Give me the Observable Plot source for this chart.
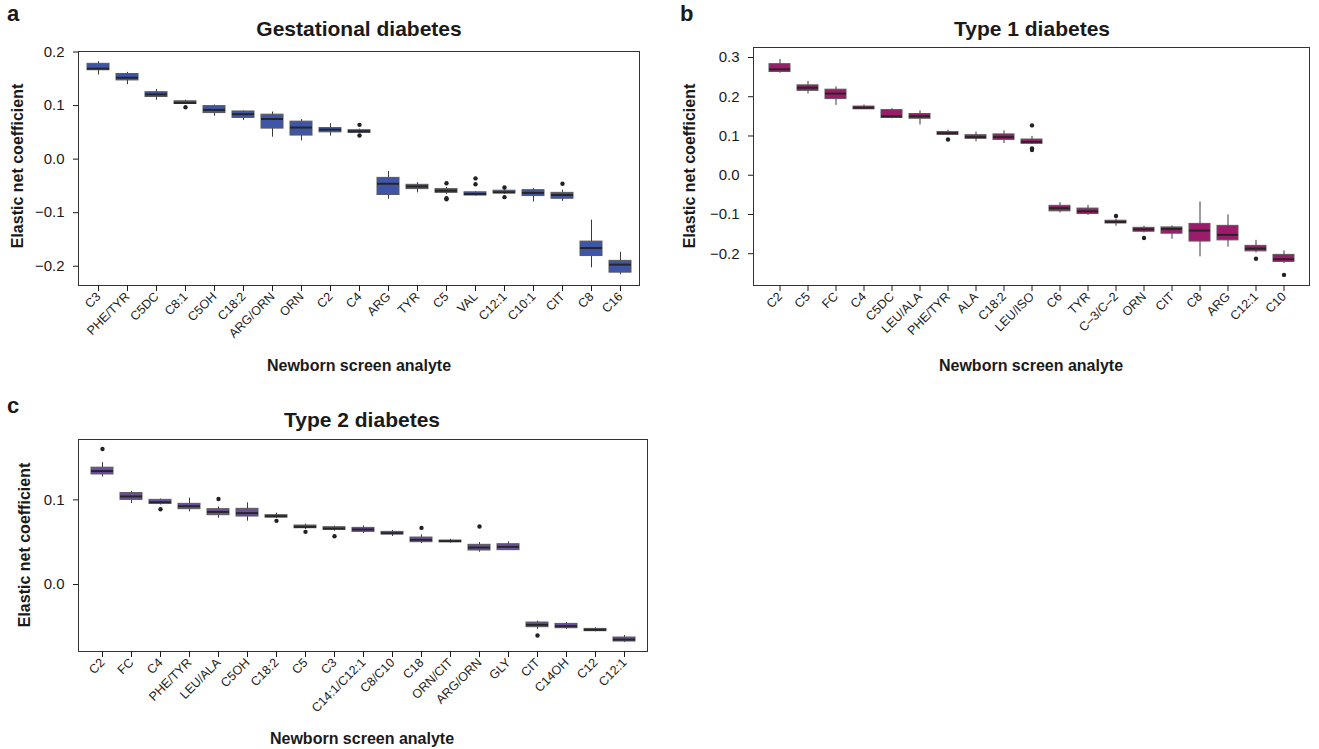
<!DOCTYPE html>
<html>
<head>
<meta charset="utf-8">
<script src="https://cdn.jsdelivr.net/npm/d3@7"></script>
<script src="https://cdn.jsdelivr.net/npm/@observablehq/plot@0.6"></script>
<style>
  html, body { margin: 0; padding: 0; background: #fff; }
  #wrap { position: relative; width: 1319px; height: 749px; font-family: "Liberation Sans", Arial, sans-serif; color: #1a1a1a; overflow: hidden; }
  .abs { position: absolute; white-space: nowrap; line-height: 1; }
  .letter { font-weight: bold; font-size: 22px; }
  .title { font-weight: bold; font-size: 21px; transform: translate(-50%, 0); }
  .xlab { font-weight: bold; font-size: 16px; transform: translate(-50%, 0); }
  .ylab { font-weight: bold; font-size: 16px; transform: translate(-50%, -50%) rotate(-90deg); }
  .panel { position: absolute; }
</style>
</head>
<body>
<div id="wrap">
  <div class="abs letter" style="left:7px;top:3px;">a</div>
  <div class="abs letter" style="left:680px;top:3px;">b</div>
  <div class="abs letter" style="left:7px;top:395px;">c</div>
  <div class="abs title" style="left:359px;top:18px;">Gestational diabetes</div>
  <div class="abs title" style="left:1032px;top:18px;">Type 1 diabetes</div>
  <div class="abs title" style="left:362px;top:409px;">Type 2 diabetes</div>
  <div class="abs ylab" style="left:18px;top:166px;">Elastic net coefficient</div>
  <div class="abs ylab" style="left:690px;top:166px;">Elastic net coefficient</div>
  <div class="abs ylab" style="left:25px;top:545px;">Elastic net coefficient</div>
  <div class="abs xlab" style="left:359px;top:358px;">Newborn screen analyte</div>
  <div class="abs xlab" style="left:1031px;top:358px;">Newborn screen analyte</div>
  <div class="abs xlab" style="left:362px;top:731px;">Newborn screen analyte</div>
  <div id="pa" class="panel" style="left:0px;top:0px;"></div>
  <div id="pb" class="panel" style="left:680px;top:0px;"></div>
  <div id="pc" class="panel" style="left:0px;top:390px;"></div>
</div>
<script>
// ---------- Panel a: Gestational diabetes ----------
const aCats = ["C3","PHE/TYR","C5DC","C8:1","C5OH","C18:2","ARG/ORN","ORN","C2","C4","ARG","TYR","C5","VAL","C12:1","C10:1","CIT","C8","C16"];
const aLo  = [0.157,0.139,0.110,0.102,0.080,0.072,0.041,0.034,0.043,0.048,-0.075,-0.063,-0.066,-0.069,-0.066,-0.080,-0.079,-0.203,-0.216];
const aQ1  = [0.166,0.147,0.116,0.103,0.086,0.077,0.057,0.044,0.050,0.049,-0.067,-0.056,-0.063,-0.068,-0.064,-0.069,-0.074,-0.181,-0.212];
const aMed = [0.169,0.152,0.121,0.105,0.092,0.084,0.075,0.059,0.055,0.052,-0.046,-0.051,-0.059,-0.065,-0.062,-0.063,-0.067,-0.166,-0.197];
const aQ3  = [0.178,0.159,0.125,0.108,0.099,0.089,0.083,0.070,0.058,0.054,-0.035,-0.048,-0.056,-0.062,-0.059,-0.058,-0.063,-0.154,-0.190];
const aHi  = [0.182,0.162,0.130,0.110,0.101,0.090,0.088,0.074,0.066,0.056,-0.023,-0.044,-0.053,-0.061,-0.057,-0.055,-0.058,-0.114,-0.174];
const aOutCat = ["C8:1","C4","C4","C5","C5","C5","VAL","VAL","C12:1","C12:1","CIT"];
const aOutVal = [0.097,0.064,0.044,-0.045,-0.073,-0.075,-0.036,-0.047,-0.053,-0.071,-0.046];
const aTicks = [-0.2,-0.1,0.0,0.1,0.2];
const aDomain = [-0.236, 0.201];

// ---------- Panel b: Type 1 diabetes ----------
const bCats = ["C2","C5","FC","C4","C5DC","LEU/ALA","PHE/TYR","ALA","C18:2","LEU/ISO","C6","TYR","C\u20133/C\u20132","ORN","CIT","C8","ARG","C12:1","C10"];
const bLo  = [0.260,0.207,0.178,0.167,0.144,0.128,0.101,0.085,0.081,0.079,-0.096,-0.102,-0.130,-0.147,-0.163,-0.208,-0.183,-0.198,-0.225];
const bQ1  = [0.263,0.215,0.194,0.168,0.146,0.144,0.103,0.093,0.090,0.080,-0.092,-0.099,-0.123,-0.144,-0.149,-0.169,-0.166,-0.194,-0.221];
const bMed = [0.270,0.223,0.208,0.172,0.150,0.150,0.107,0.097,0.097,0.085,-0.084,-0.092,-0.119,-0.138,-0.137,-0.141,-0.152,-0.187,-0.214];
const bQ3  = [0.283,0.229,0.218,0.175,0.166,0.156,0.110,0.102,0.104,0.091,-0.078,-0.085,-0.116,-0.134,-0.133,-0.124,-0.129,-0.180,-0.203];
const bHi  = [0.295,0.239,0.225,0.179,0.170,0.164,0.115,0.110,0.113,0.099,-0.070,-0.077,-0.112,-0.130,-0.129,-0.068,-0.101,-0.166,-0.193];
const bOutCat = ["PHE/TYR","LEU/ISO","LEU/ISO","LEU/ISO","C\u20133/C\u20132","ORN","C12:1","C10"];
const bOutVal = [0.091,0.127,0.068,0.064,-0.104,-0.160,-0.213,-0.254];
const bTicks = [-0.2,-0.1,0.0,0.1,0.2,0.3];
const bDomain = [-0.281, 0.3255];

// ---------- Panel c: Type 2 diabetes ----------
const cCats = ["C2","FC","C4","PHE/TYR","LEU/ALA","C5OH","C18:2","C5","C3","C14:1/C12:1","C8/C10","C18","ORN/CIT","ARG/ORN","GLY","CIT","C14OH","C12","C12:1"];
const cLo  = [0.127,0.0957,0.094,0.0858,0.0783,0.0748,0.078,0.065,0.063,0.0602,0.0567,0.0484,0.0488,0.0382,0.0402,-0.0531,-0.0531,-0.0559,-0.0685];
const cQ1  = [0.130,0.100,0.0953,0.089,0.0819,0.0803,0.0791,0.0665,0.0646,0.0622,0.0591,0.050,0.050,0.0402,0.0406,-0.0504,-0.0516,-0.0551,-0.0673];
const cMed = [0.134,0.104,0.0972,0.0925,0.0858,0.0843,0.0807,0.0681,0.0661,0.065,0.0606,0.0528,0.0512,0.0437,0.0445,-0.0476,-0.0492,-0.0535,-0.065];
const cQ3  = [0.138,0.108,0.100,0.0953,0.089,0.0894,0.0819,0.0697,0.0677,0.0669,0.0622,0.0555,0.052,0.0469,0.0476,-0.0449,-0.0465,-0.0524,-0.0626];
const cHi  = [0.144,0.110,0.101,0.102,0.0917,0.0965,0.0843,0.0713,0.069,0.0693,0.0638,0.0587,0.0535,0.0496,0.0504,-0.0433,-0.0449,-0.0512,-0.0602];
const cOutCat = ["C2","C4","LEU/ALA","C18:2","C5","C3","C18","ARG/ORN","CIT"];
const cOutVal = [0.160,0.089,0.101,0.0752,0.0622,0.0571,0.0669,0.0685,-0.0602];
const cTicks = [0.0,0.1];
const cDomain = [-0.0791, 0.1713];

const colors = { a: "#3f55a8", b: "#9c1b6b", c: "#6b4f9f" };

function panel(cats, lo, q1, med, q3, hi, outCat, outVal, ticks, domain, fill, size) {
  const rows = cats.map((c, i) => ({ c, lo: lo[i], q1: q1[i], med: med[i], q3: q3[i], hi: hi[i] }));
  const outs = outCat.map((c, i) => ({ c, v: outVal[i] }));
  return Plot.plot({
    width: size.width,
    height: size.height,
    marginLeft: size.ml,
    marginRight: size.mr,
    marginTop: size.mt,
    marginBottom: size.mb,
    style: { fontFamily: "Liberation Sans, Arial, sans-serif", color: "#1a1a1a", background: "transparent" },
    x: { type: "band", domain: cats, padding: 0.25 },
    y: { domain: domain },
    marks: [
      Plot.ruleX(rows, { x: "c", y1: "lo", y2: "hi", stroke: "#3a3a3a", strokeWidth: 1 }),
      Plot.barY(rows, { x: "c", y1: "q1", y2: "q3", fill: fill, stroke: "#5a5a5a", strokeWidth: 1 }),
      Plot.tickY(rows, { x: "c", y: "med", stroke: "#262626", strokeWidth: 2 }),
      Plot.dot(outs, { x: "c", y: "v", r: 2.2, fill: "#222", stroke: "none" }),
      Plot.frame({ stroke: "#333", strokeWidth: 1 }),
      Plot.axisX({ tickRotate: -45, tickSize: 6, tickPadding: 3, fontSize: 12.5, label: null }),
      Plot.axisY({ ticks: ticks, tickFormat: d3.format(".1f"), tickSize: 5, tickPadding: 9, fontSize: 15, label: null })
    ]
  });
}

document.getElementById("pa").appendChild(
  panel(aCats, aLo, aQ1, aMed, aQ3, aHi, aOutCat, aOutVal, aTicks, aDomain, colors.a,
    { width: 660, height: 360, ml: 78, mr: 21, mt: 51, mb: 75 }));
document.getElementById("pb").appendChild(
  panel(bCats, bLo, bQ1, bMed, bQ3, bHi, bOutCat, bOutVal, bTicks, bDomain, colors.b,
    { width: 639, height: 360, ml: 73, mr: 10, mt: 47, mb: 75 }));
document.getElementById("pc").appendChild(
  panel(cCats, cLo, cQ1, cMed, cQ3, cHi, cOutCat, cOutVal, cTicks, cDomain, colors.c,
    { width: 660, height: 359, ml: 78, mr: 13, mt: 49, mb: 98 }));
</script>
</body>
</html>
